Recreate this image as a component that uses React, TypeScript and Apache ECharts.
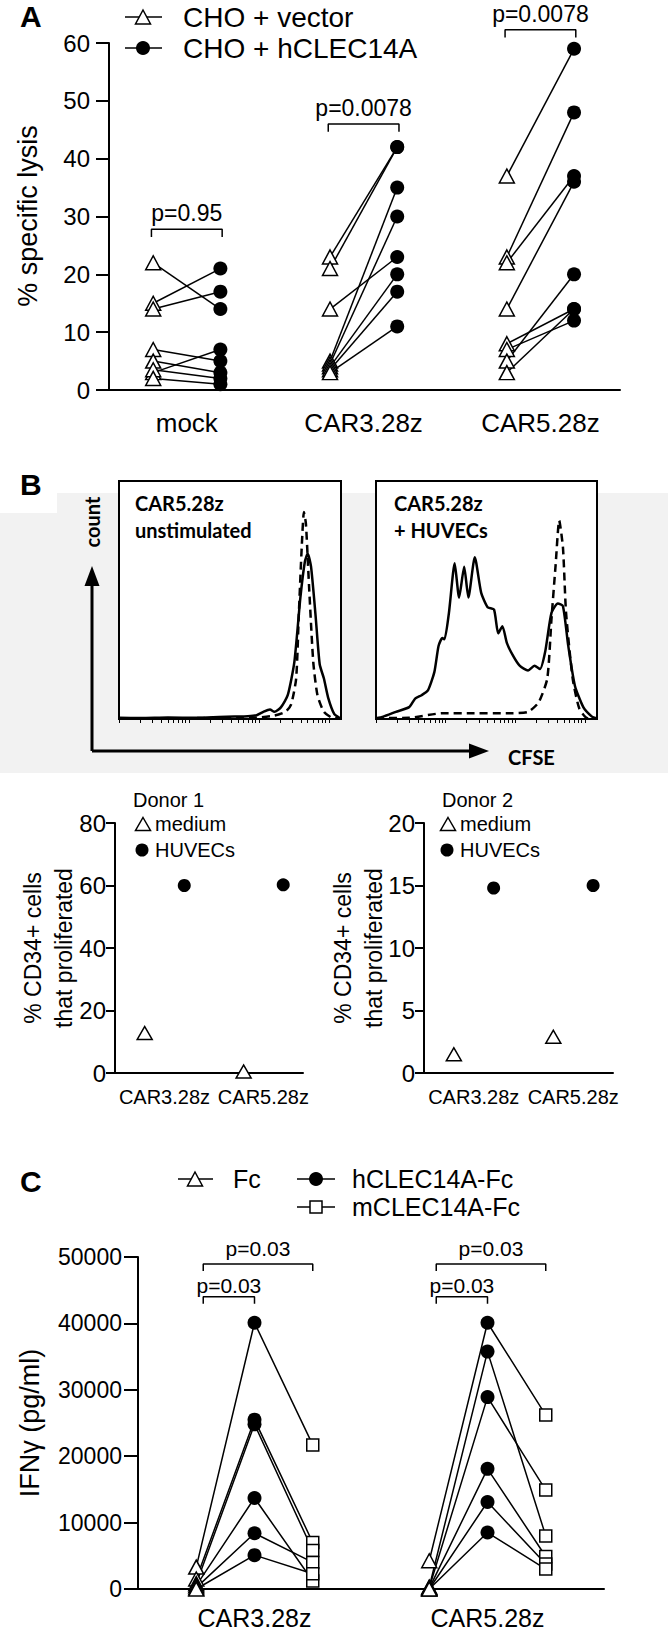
import React, { useEffect, useRef } from 'react';
import * as echarts from 'echarts';

const FONT = '"Liberation Sans", Arial, Helvetica, sans-serif';
const HFONT = 'Lato, "Open Sans", sans-serif';
const INK = '#000';

// ---------- Panel A : % specific lysis ----------
const groupsA = ['mock', 'CAR3.28z', 'CAR5.28z'];
const vectorMock = [22, 15, 14, 7, 5, 3, 3.5, 2];
const hclecMock = [14, 21, 17, 5, 3, 7, 2, 1];
const vectorCar3 = [23, 21, 14, 5, 4.5, 4, 3.5, 3];
const hclecCar3 = [42, 42, 23, 35, 30, 20, 17, 11];
const vectorCar5 = [37, 23, 22, 14, 8, 7, 5, 3];
const hclecCar5 = [59, 48, 37, 36, 14, 12, 20, 14];
const pLabelsA = ['p=0.95', 'p=0.0078', 'p=0.0078'];
const bracketLevelA = [27.8, 46, 62.3];

// ---------- Panel B : CFSE histograms (x: CFSE position 0-100, y: relative count 0-100) ----------
const histUnstimSolid = [
  [0, 0.5], [10, 0.4], [22, 0.6], [35, 0.5], [45, 0.8], [52, 1], [58, 1.2], [62, 1.6], [65, 3], [68, 4],
  [70, 3], [73, 5], [76, 10], [79, 24], [81.7, 51], [83.7, 66], [85, 69.5], [86.5, 64], [88.5, 44],
  [90.4, 23], [92.3, 17], [94.2, 9], [97, 2], [99.6, 0.3],
];
const histUnstimDashed = [
  [0, 0.3], [20, 0.3], [40, 0.4], [55, 0.5], [62, 0.6], [70, 1.4], [75, 3], [77.5, 6], [79.8, 17],
  [81, 44], [82.3, 72], [83.3, 87], [84.2, 82], [85.6, 56], [87.5, 24], [89.4, 10], [92.3, 3], [96, 0.5],
  [99.6, 0.3],
];
const histHuvecSolid = [
  [0, 0.3], [3.3, 1], [9, 3], [15, 5], [17.7, 8.6], [20.6, 10], [23.5, 12], [26.4, 19.7], [28.3, 30.7],
  [30, 34], [31, 33.5], [33, 44.6], [35.6, 65.4], [37.6, 51], [39.9, 64], [41.8, 51], [44.7, 68],
  [47.6, 53], [50.5, 47], [53.4, 46], [55.3, 36], [57.2, 39], [59.2, 32], [62, 26.6], [65, 22.4],
  [68.8, 20.4], [71.7, 22.4], [74.2, 21], [76.5, 28], [79.4, 44.6], [82.3, 48.5], [84.6, 47.4],
  [87, 30.7], [90, 14], [93.8, 5], [97.7, 1], [99.6, 0.3],
];
const histHuvecDashed = [
  [0, 0.3], [3, 0.4], [15, 0.5], [30, 2.4], [41.8, 2.4], [61, 2.4], [68.8, 3], [73.6, 7], [77.5, 17],
  [79.4, 42], [81.3, 65], [82.9, 83.4], [84.6, 72], [86, 44.6], [89, 17], [92, 4.4], [95.8, 0.3],
  [99.6, 0.3],
];

// ---------- Panel B : proliferation dot plots ----------
const dotCats = ['CAR3.28z', 'CAR5.28z'];
const donor1Medium = [12.8, 0.5];
const donor1Huvecs = [60, 60.2];
const donor2Medium = [1.5, 2.9];
const donor2Huvecs = [14.8, 15];

// ---------- Panel C : IFN-gamma ----------
const groupsC = ['CAR3.28z', 'CAR5.28z'];
const fcCar3 = [3300, 1500, 800, 500, 200, 0];
const hCar3 = [40100, 25500, 24800, 13700, 8400, 5100];
const mCar3 = [21700, 7000, 5800, 1200, 4000, 2300];
const fcCar5 = [4250, 300, 200, 100, 0, 0];
const hCar5 = [40100, 35750, 28900, 18100, 13100, 8500];
const mCar5 = [26200, 8000, 14900, 4900, 3750, 3000];
const pLabelsC = ['p=0.03', 'p=0.03'];
const bracketOuterC = 48950;
const bracketInnerC = 44000;

function buildOption() {
  const series: any[] = [];
  const addLine = (ax: number, pts: number[][], extra: any = {}) =>
    series.push({
      type: 'line', xAxisIndex: ax, yAxisIndex: ax, data: pts, symbol: 'none', silent: true,
      clip: false, z: 2, lineStyle: { color: INK, width: 1.5 }, ...extra,
    });
  const addMarks = (ax: number, pts: number[][], kind: string, size: any) =>
    series.push({
      type: 'scatter', xAxisIndex: ax, yAxisIndex: ax, data: pts, silent: true, clip: false, z: 3,
      symbol: kind === 'tri' ? 'triangle' : kind === 'sq' ? 'rect' : 'circle',
      symbolSize: size,
      itemStyle: kind === 'dot'
        ? { color: INK, opacity: 1 }
        : { color: '#fff', borderColor: INK, borderWidth: 1.5, opacity: 1 },
    });
  const addText = (ax: number, x: number, y: number, text: string, fontSize: number) =>
    series.push({
      type: 'scatter', xAxisIndex: ax, yAxisIndex: ax, data: [[x, y]], symbolSize: 1, silent: true,
      clip: false, z: 4, itemStyle: { color: 'rgba(0,0,0,0)', opacity: 1 },
      label: { show: true, position: 'inside', formatter: text, fontSize, fontFamily: FONT, color: INK, opacity: 1 },
    });

  // Panel A
  const OFF_A = 0.19;
  const pairsA = [[vectorMock, hclecMock], [vectorCar3, hclecCar3], [vectorCar5, hclecCar5]];
  pairsA.forEach(([v, h], g) => v.forEach((val, i) => addLine(0, [[g - OFF_A, val], [g + OFF_A, h[i]]])));
  pairsA.forEach(([v, h], g) => {
    addMarks(0, v.map((val) => [g - OFF_A, val]), 'tri', [15, 14]);
    addMarks(0, h.map((val) => [g + OFF_A, val]), 'dot', 14);
  });
  bracketLevelA.forEach((lv, g) => {
    addLine(0, [[g - 0.2, lv - 1.35], [g - 0.2, lv], [g + 0.2, lv], [g + 0.2, lv - 1.35]]);
    addText(0, g, lv + 2.8, pLabelsA[g], 23);
  });

  // Panel B histograms
  const histSolid = { lineStyle: { color: INK, width: 2.5 }, smooth: 0.2 };
  const histDash = { lineStyle: { color: INK, width: 2.5, type: [8, 5] }, smooth: 0.2 };
  addLine(1, histUnstimDashed, histDash);
  addLine(1, histUnstimSolid, histSolid);
  addLine(2, histHuvecDashed, histDash);
  addLine(2, histHuvecSolid, histSolid);

  // Panel B dot plots
  const OFF_B = 0.2;
  addMarks(3, donor1Medium.map((v, i) => [i - OFF_B, v]), 'tri', [15, 13]);
  addMarks(3, donor1Huvecs.map((v, i) => [i + OFF_B, v]), 'dot', 13);
  addMarks(4, donor2Medium.map((v, i) => [i - OFF_B, v]), 'tri', [15, 13]);
  addMarks(4, donor2Huvecs.map((v, i) => [i + OFF_B, v]), 'dot', 13);

  // Panel C
  const OFF_C = 0.25;
  const setsC = [[fcCar3, hCar3, mCar3], [fcCar5, hCar5, mCar5]];
  setsC.forEach(([f, h, m], g) =>
    f.forEach((val, i) => addLine(5, [[g - OFF_C, val], [g, h[i]], [g + OFF_C, m[i]]])));
  setsC.forEach(([f, h, m], g) => {
    addMarks(5, f.map((v) => [g - OFF_C, v]), 'tri', [15, 14]);
    addMarks(5, m.map((v) => [g + OFF_C, v]), 'sq', 12);
    addMarks(5, h.map((v) => [g, v]), 'dot', 14);
  });
  groupsC.forEach((_, g) => {
    const l = g - 0.22;
    addLine(5, [[l, bracketOuterC - 1050], [l, bracketOuterC], [g + OFF_C, bracketOuterC], [g + OFF_C, bracketOuterC - 1050]]);
    addLine(5, [[l, bracketInnerC - 1050], [l, bracketInnerC], [g, bracketInnerC], [g, bracketInnerC - 1050]]);
    addText(5, (l + g + OFF_C) / 2, bracketOuterC + 2300, pLabelsC[g], 21);
    addText(5, (l + g) / 2, bracketInnerC + 1700, pLabelsC[g], 21);
  });

  const axLine = { show: true, onZero: false, lineStyle: { color: INK, width: 2 } };
  const noSplit = { show: false };
  const catAxis = (grid: number, min: number, max: number, names: string[], fontSize: number, margin: number) => ({
    gridIndex: grid, type: 'value', min, max, axisLine: axLine, axisTick: { show: false }, splitLine: noSplit,
    axisLabel: {
      customValues: names.map((_, i) => i), formatter: (v: number) => names[Math.round(v)] || '',
      fontSize, fontFamily: FONT, color: INK, margin,
    },
  });
  const valAxis = (grid: number, max: number, interval: number, fontSize: number, tick: number, margin: number) => ({
    gridIndex: grid, type: 'value', min: 0, max, interval, axisLine: axLine,
    axisTick: { show: true, length: tick, lineStyle: { color: INK, width: 2 } }, splitLine: noSplit,
    axisLabel: { fontSize, fontFamily: FONT, color: INK, margin, formatter: (v: number) => String(v) },
  });
  const histTicks: number[] = [];
  [0, 31.5, 63].forEach((d) => [1, 2, 3, 4, 5, 6, 7, 8, 9].forEach((k) => histTicks.push(d + 31.5 * Math.log10(k))));
  histTicks.push(94.5);
  const histX = (grid: number) => ({
    gridIndex: grid, type: 'value', min: 0, max: 100, splitLine: noSplit,
    axisLine: { show: true, onZero: false, lineStyle: { color: INK, width: 2 } },
    axisTick: { show: true, customValues: histTicks, length: 4, lineStyle: { color: INK, width: 1 } },
    axisLabel: { show: false },
  });
  const histY = (grid: number) => ({
    gridIndex: grid, type: 'value', min: 0, max: 100, show: false, splitLine: noSplit,
  });

  const txt = (x: number, y: number, text: string, fontSize: number, extra: any = {}, font = FONT) => ({
    type: 'text', x, y, z: 10, silent: true,
    style: { text, fontSize, fontFamily: font, fill: INK, align: 'left', verticalAlign: 'middle', ...extra },
  });
  const seg = (x1: number, y1: number, x2: number, y2: number, w = 1.5) => ({
    type: 'line', z: 10, silent: true, shape: { x1, y1, x2, y2 }, style: { stroke: INK, lineWidth: w },
  });
  const tri = (cx: number, cy: number, w: number, h: number) => ({
    type: 'polygon', z: 11, silent: true,
    shape: { points: [[cx, cy - h / 2], [cx + w / 2, cy + h / 2], [cx - w / 2, cy + h / 2]] },
    style: { fill: '#fff', stroke: INK, lineWidth: 1.5 },
  });
  const dot = (cx: number, cy: number, r: number) => ({
    type: 'circle', z: 11, silent: true, shape: { cx, cy, r }, style: { fill: INK },
  });
  const sq = (cx: number, cy: number, s: number) => ({
    type: 'rect', z: 11, silent: true, shape: { x: cx - s / 2, y: cy - s / 2, width: s, height: s },
    style: { fill: '#fff', stroke: INK, lineWidth: 1.5 },
  });
  const bold = { fontWeight: 'bold' };

  const graphics: any[] = [
    // grey background behind panel B histograms
    { type: 'rect', z: -100, silent: true, shape: { x: 57, y: 493, width: 611, height: 20 }, style: { fill: '#f2f2f2' } },
    { type: 'rect', z: -100, silent: true, shape: { x: 0, y: 513, width: 668, height: 260 }, style: { fill: '#f2f2f2' } },
    // panel letters
    txt(20, 16, 'A', 30, bold),
    txt(20, 484, 'B', 30, bold),
    txt(20, 1181, 'C', 30, bold),
    // panel A legend
    seg(125, 17, 162, 17), tri(143, 17, 15, 14), txt(183, 17, 'CHO + vector', 28),
    seg(125, 48, 162, 48), dot(143, 48, 7), txt(183, 48, 'CHO + hCLEC14A', 28),
    // panel A y title
    txt(28, 216, '% specific lysis', 27, { align: 'center' }),
    // panel B histogram annotations
    txt(135, 503, 'CAR5.28z', 20, bold, HFONT),
    txt(135, 530, 'unstimulated', 20, bold, HFONT),
    txt(394, 503, 'CAR5.28z', 20, bold, HFONT),
    txt(394, 530, '+ HUVECs', 20, bold, HFONT),
    txt(92, 522, 'count', 20, { ...bold, align: 'center' }, HFONT),
    txt(508, 757, 'CFSE', 20, bold, HFONT),
    seg(92, 751, 92, 582, 3),
    { type: 'polygon', z: 10, silent: true, shape: { points: [[92, 566], [84.5, 586], [99.5, 586]] }, style: { fill: INK } },
    seg(92, 751, 472, 751, 3),
    { type: 'polygon', z: 10, silent: true, shape: { points: [[489, 751], [469, 743.5], [469, 758.5]] }, style: { fill: INK } },
    // panel B dot plot legends and titles
    txt(133, 800, 'Donor 1', 20),
    tri(143, 824, 15, 13), txt(155, 824, 'medium', 20),
    dot(142, 850, 6.5), txt(155, 850, 'HUVECs', 20),
    txt(442, 800, 'Donor 2', 20),
    tri(448, 824, 15, 13), txt(460, 824, 'medium', 20),
    dot(447, 850, 6.5), txt(460, 850, 'HUVECs', 20),
    txt(48, 948, '% CD34+ cells\nthat proliferated', 23, { align: 'center', lineHeight: 31 }),
    txt(358, 948, '% CD34+ cells\nthat proliferated', 23, { align: 'center', lineHeight: 31 }),
    // panel C legend and title
    seg(178, 1179, 213, 1179), tri(195, 1179, 15, 14), txt(233, 1179, 'Fc', 25),
    seg(297, 1179, 335, 1179), dot(316, 1179, 7), txt(352, 1179, 'hCLEC14A-Fc', 25),
    seg(297, 1207, 335, 1207), sq(316, 1207, 12), txt(352, 1207, 'mCLEC14A-Fc', 25),
    txt(30, 1423, 'IFNγ (pg/ml)', 27, { align: 'center' }),
  ];
  // rotate the vertical titles
  graphics.forEach((g) => {
    if (g.type === 'text' && ['% specific lysis', 'count', 'IFNγ (pg/ml)', '% CD34+ cells\nthat proliferated'].includes(g.style.text)) {
      g.rotation = Math.PI / 2;
    }
  });

  return {
    animation: false,
    backgroundColor: '#fff',
    grid: [
      { left: 109, top: 43, width: 511, height: 347 },
      { left: 119, top: 481, width: 222, height: 238, show: true, borderColor: INK, borderWidth: 2, backgroundColor: '#fff' },
      { left: 376, top: 481, width: 221, height: 238, show: true, borderColor: INK, borderWidth: 2, backgroundColor: '#fff' },
      { left: 115, top: 823, width: 188, height: 250 },
      { left: 424, top: 823, width: 189, height: 250 },
      { left: 138, top: 1257, width: 466, height: 333 },
    ],
    xAxis: [
      catAxis(0, -0.44, 2.45, groupsA, 26, 20),
      histX(1),
      histX(2),
      catAxis(3, -0.5, 1.4, dotCats, 20, 14),
      catAxis(4, -0.5, 1.4, dotCats, 20, 14),
      catAxis(5, -0.5, 1.5, groupsC, 25, 16),
    ],
    yAxis: [
      valAxis(0, 60, 10, 24, 13, 19),
      histY(1),
      histY(2),
      valAxis(3, 80, 20, 24, 9, 9),
      valAxis(4, 20, 5, 24, 9, 9),
      valAxis(5, 50000, 10000, 23, 14, 16),
    ],
    series,
    graphic: { elements: graphics },
  };
}

export default function App() {
  const ref = useRef<HTMLDivElement>(null);
  useEffect(() => {
    document.body.style.margin = '0';
    if (!ref.current) return;
    const chart = echarts.init(ref.current, null, { renderer: 'svg' });
    chart.setOption(buildOption() as any);
    return () => chart.dispose();
  }, []);
  return <div ref={ref} style={{ width: 668, height: 1630 }} />;
}
